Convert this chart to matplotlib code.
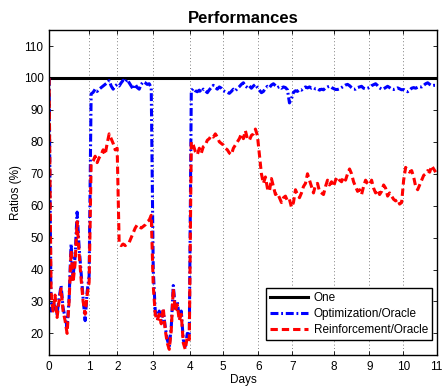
import matplotlib
matplotlib.use('Agg')
import matplotlib.pyplot as plt
import numpy as np

plt.rcParams['font.family'] = ['Liberation Sans', 'DejaVu Sans']

# sample positions where each day starts (labels 0..11)
DAY_TICKS = [0, 20.15, 34.15, 51.85, 70.15, 86.85, 104.5, 121.5, 142.15, 159.85, 176.85, 193.5]
DAY_LABELS = [str(d) for d in range(12)]

OPTIMIZATION = [
    100, 27, 30, 28, 26, 31, 35, 28, 25, 22,
    31, 48, 38, 44, 58, 47, 39, 31, 24, 33,
    38, 95, 95.5, 96.5, 95.8, 96.5, 97, 97.5, 98, 98.5,
    99.2, 97.5, 96.5, 97.5, 98, 97.5, 98.5, 99.3, 98.7, 99.5,
    98.5, 97.5, 96.5, 98, 97, 96.5, 98, 98.8, 98.5, 98,
    98.2, 97, 40, 27, 25, 27, 24, 27, 22, 18,
    16, 22, 35, 28, 30, 25, 27, 18, 16, 20,
    19, 96, 96.7, 96, 95.7, 96.2, 95.5, 96.5, 96, 95.4,
    96.3, 97, 97.7, 97, 96.5, 97.2, 96.8, 96, 95.7, 95.5,
    95.2, 95.8, 96.5, 96, 96.7, 97.3, 98, 98.5, 97.5, 97,
    97.5, 96.8, 97.5, 98, 97, 96.2, 95.4, 95.8, 96.8, 97.4,
    97, 97.8, 98.2, 97.6, 97, 97.3, 96.8, 97.2, 97, 96.3,
    92.2, 93.5, 95.5, 96, 95.8, 96.4, 96.2, 96.8, 97.2, 96.9,
    97.2, 96.8, 97, 96.6, 96.7, 96.2, 96.5, 96.3, 96.9, 97.2,
    97.4, 97, 96.7, 96.4, 96.4, 96.6, 97, 97.4, 97.8, 98,
    97.6, 97, 96.5, 96.5, 97, 97.2, 97.4, 96.8, 96.6, 96.8,
    97, 97.6, 97.9, 98.2, 97.6, 96.9, 96.5, 96.6, 97, 97.4,
    97, 96.5, 96.4, 96.6, 96.9, 96.6, 96.3, 96.4, 96, 95.7,
    96.2, 96.8, 97, 96.8, 97.1, 97.3, 97.2, 97.7, 98.2, 98.5,
    98, 97.6, 97.7, 97.7,
]

REINFORCEMENT = [
    100, 33, 27, 32, 25, 30, 34, 27, 24, 20,
    30, 46, 36, 42, 55, 45, 37, 30, 26, 32,
    36, 73, 74, 75.5, 73.5, 75, 76, 77.5, 76, 79.5,
    82.5, 81, 79.5, 77.5, 78, 48, 47.5, 48, 47.5, 48,
    48.5, 50, 51.5, 53, 54, 53.5, 53, 53.5, 54, 55,
    55.5, 57, 35, 26, 24, 26, 23, 28, 21, 17,
    15, 21, 34, 27, 29, 24, 26, 17, 15, 19,
    18, 80, 79, 77, 76, 78, 76.5, 78.5, 79, 80.5,
    81, 82, 81.5, 82.5, 81.5, 80, 79.5, 79, 78, 77.5,
    76.5, 76, 78, 79, 80, 81, 82.5, 81, 83.5, 81,
    80.5, 82, 82.5, 84, 82, 76, 70, 67, 69, 65.5,
    64.5, 68.5, 66, 63.5, 64, 62.5, 61, 62.5, 63, 61.5,
    62, 59.5, 61, 65, 63.5, 62.5, 64, 66, 67, 70,
    68, 66, 64, 66.5, 67, 64.5, 64, 63.5, 66, 68,
    66.5, 67.5, 66, 68, 69, 68, 67.5, 69, 68, 70,
    71.5, 70, 67.5, 66, 64.5, 65, 63.5, 66, 68, 67,
    66.5, 68, 65.5, 64, 65, 63.5, 64.5, 66.5, 65.5, 63,
    64, 63, 62, 61.5, 62, 60.5, 61, 68, 72, 71,
    70.5, 71, 69, 66, 65, 66.5, 68, 69.5, 70, 71,
    70.5, 72.5, 71.5, 70.5,
]


def main():
    samples = np.arange(len(OPTIMIZATION))
    one = np.full(len(samples), 100.0)

    fig = plt.figure(figsize=(4.42, 3.86), dpi=100)
    ax = fig.add_axes([0.111, 0.080, 0.877, 0.842])

    ax.plot(samples, one, color='black', lw=2.2, label='One')
    ax.plot(samples, OPTIMIZATION, color='blue', lw=2.2,
            ls=(0, (2.6, 0.9, 0.6, 0.9)), label='Optimization/Oracle')
    ax.plot(samples, REINFORCEMENT, color='red', lw=2.2,
            ls=(0, (2.4, 1.3)), label='Reinforcement/Oracle')

    ax.set_xlim(DAY_TICKS[0], DAY_TICKS[-1])
    ax.set_ylim(13.2, 115)
    ax.set_xticks(DAY_TICKS)
    ax.set_xticklabels(DAY_LABELS)
    ax.set_yticks(range(20, 111, 10))
    ax.tick_params(direction='in', top=True, right=True, length=3, width=0.6,
                   labelsize=8.5, pad=4)
    ax.xaxis.grid(True, ls=(0, (1, 3)), color='#555555', lw=0.6)
    for sp in ax.spines.values():
        sp.set_linewidth(1.0)

    ax.set_title('Performances', fontsize=12, fontweight='bold', pad=5)
    ax.set_xlabel('Days', fontsize=8.5, labelpad=1)
    ax.set_ylabel('Ratios (%)', fontsize=8.5, labelpad=1)

    leg = ax.legend(loc='lower right', bbox_to_anchor=(0.988, 0.046), borderaxespad=0,
                    fontsize=8.5, fancybox=False, framealpha=1, edgecolor='black',
                    handlelength=3.2, labelspacing=0.35, borderpad=0.35, handletextpad=0.5)
    leg.get_frame().set_linewidth(1.0)

    fig.savefig('out.png', dpi=100)


if __name__ == '__main__':
    main()
